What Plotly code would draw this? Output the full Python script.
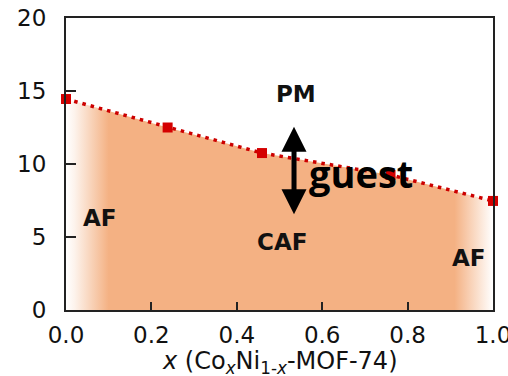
import plotly.graph_objects as go

# Co fraction x and transition temperature (K) for CoxNi1-x-MOF-74
x_frac = [0.0, 0.238, 0.459, 0.76, 1.0]
t_trans = [14.45, 12.5, 10.75, 9.25, 7.47]

x_ticks = [0.0, 0.2, 0.4, 0.6, 0.8, 1.0]
y_ticks = [0, 5, 10, 15, 20]

orange = "#F4B183"
red = "#CC0000"
tick_font = dict(family="DejaVu Sans", size=23, color="#111111")
label_font = dict(family="DejaVu Sans", size=23, color="#111111", weight="bold")

fig = go.Figure()

# ordered (CAF) region under the transition line, fading to white at both AF ends
fig.add_trace(go.Scatter(
    x=x_frac, y=t_trans, mode="none", fill="tozeroy",
    fillgradient=dict(
        type="horizontal",
        colorscale=[[0.0, "#FFFFFF"], [0.02, "#FDF3EC"], [0.1, orange],
                    [0.91, orange], [1.0, "#FFFFFF"]],
    ),
    hoverinfo="skip", showlegend=False,
))

# transition temperatures
fig.add_trace(go.Scatter(
    x=x_frac, y=t_trans, mode="lines+markers",
    line=dict(color=red, width=3.5, dash="3.5px,5px"),
    marker=dict(symbol="square", size=10, color="#D40000"),
    cliponaxis=False, showlegend=False,
))

phase_labels = [
    ("PM", 0.539, 14.8),
    ("AF", 0.08, 6.3),
    ("CAF", 0.506, 4.66),
    ("AF", 0.944, 3.56),
]
for txt, lx, ly in phase_labels:
    fig.add_annotation(x=lx, y=ly, text=txt, showarrow=False, font=label_font)

# guest-induced shift of the transition
fig.add_annotation(
    x=0.534, y=12.55, ax=0.534, ay=6.45, axref="x", ayref="y",
    text="", showarrow=True, arrowside="end+start",
    arrowhead=2, startarrowhead=2, arrowsize=1.0, startarrowsize=1.0,
    arrowwidth=5, arrowcolor="#000000",
)
fig.add_annotation(
    x=0.69, y=9.4, text="guest", showarrow=False,
    font=dict(family="Open Sans", size=38, color="#000000", weight="bold"),
)

# x-axis title, placed below the tick labels
fig.add_annotation(
    xref="paper", yref="paper", x=0.5, y=-0.18, yanchor="middle",
    text="<i>x</i> (Co<sub><i>x</i></sub>Ni<sub>1-<i>x</i></sub>-MOF-74)",
    showarrow=False, font=dict(family="DejaVu Sans", size=24, color="#111111"),
)

axis_common = dict(
    showgrid=False, zeroline=False, showline=True, linecolor="#222222",
    linewidth=2, mirror=True, ticks="inside", tickcolor="#222222",
    tickwidth=2, tickfont=tick_font, automargin=False,
)
fig.update_xaxes(
    range=[0, 1], tickvals=x_ticks, tickformat=".1f", ticklen=8,
    ticklabelstandoff=3, ticklabeloverflow="allow",
    **axis_common,
)
fig.update_yaxes(
    range=[0, 20], tickvals=y_ticks, ticklen=10, ticklabelstandoff=13,
    **axis_common,
)

fig.update_layout(
    width=508, height=376,
    margin=dict(l=66, r=15, t=18, b=66),
    plot_bgcolor="white", paper_bgcolor="white",
)

fig.write_html("out.html")
